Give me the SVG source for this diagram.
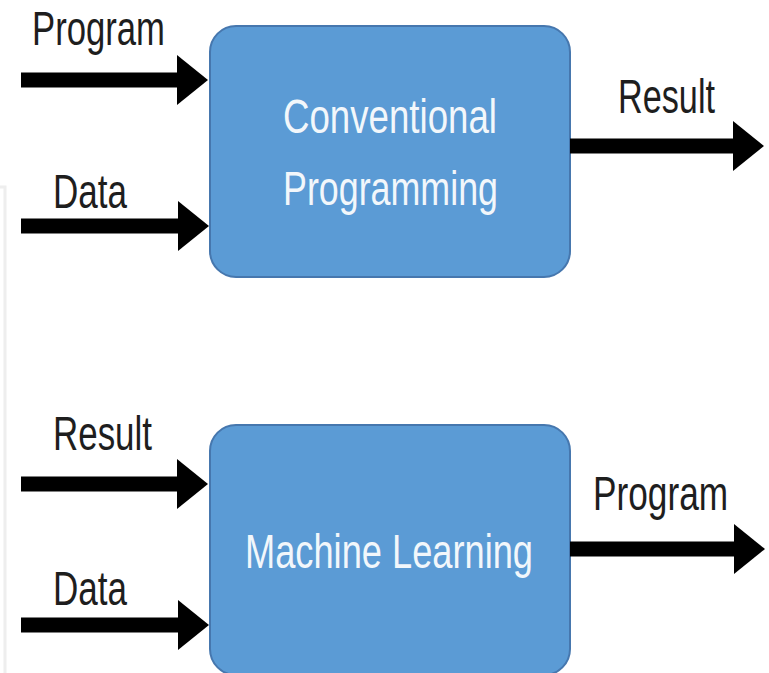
<svg xmlns="http://www.w3.org/2000/svg" width="769" height="673" viewBox="0 0 769 673">
<style>
.box{fill:#5B9BD5;stroke:#4677AE;stroke-width:2}
.lbl{font-family:"Liberation Sans",Arial,sans-serif;font-size:48px;fill:#1e1e1e}
.in{font-family:"Liberation Sans",Arial,sans-serif;font-size:48px;fill:#ffffff;opacity:0.92}
.arr{stroke:#000;stroke-width:15;fill:none;marker-end:url(#head)}
</style>
<defs>
<marker id="head" markerUnits="userSpaceOnUse" viewBox="0 0 31 50" refX="0" refY="25" markerWidth="31" markerHeight="50" orient="auto">
<path d="M0,0 L31,25 L0,50 Z" fill="#000"/>
</marker>
</defs>
<rect x="0" y="0" width="769" height="673" fill="#ffffff"/>
<path d="M0,187 H5 V673" fill="none" stroke="#eeeeee" stroke-width="3"/>
<g id="node-conventional">
<rect class="box" x="210" y="26" width="360" height="251" rx="26" ry="26"/>
<text class="in" x="283" y="133" textLength="214" lengthAdjust="spacingAndGlyphs">Conventional</text>
<text class="in" x="283" y="205" textLength="215" lengthAdjust="spacingAndGlyphs">Programming</text>
</g>
<g id="node-ml">
<rect class="box" x="210" y="425" width="360" height="250" rx="26" ry="26"/>
<text class="in" x="245" y="568" textLength="288" lengthAdjust="spacingAndGlyphs">Machine Learning</text>
</g>
<g id="connectors">
<path class="arr" d="M21,80 H177"/>
<path class="arr" d="M21,226 H178"/>
<path class="arr" d="M570,146 H733"/>
<path class="arr" d="M21,484 H177"/>
<path class="arr" d="M21,625 H178"/>
<path class="arr" d="M570,549 H734"/>
</g>
<g id="labels">
<text class="lbl" x="32" y="45" textLength="133" lengthAdjust="spacingAndGlyphs">Program</text>
<text class="lbl" x="53" y="208" textLength="74" lengthAdjust="spacingAndGlyphs">Data</text>
<text class="lbl" x="618" y="113" textLength="97" lengthAdjust="spacingAndGlyphs">Result</text>
<text class="lbl" x="53" y="450" textLength="99" lengthAdjust="spacingAndGlyphs">Result</text>
<text class="lbl" x="53" y="605" textLength="74" lengthAdjust="spacingAndGlyphs">Data</text>
<text class="lbl" transform="translate(593,510) scale(0.734,1)" x="0" y="0">Program</text>
</g>
</svg>
